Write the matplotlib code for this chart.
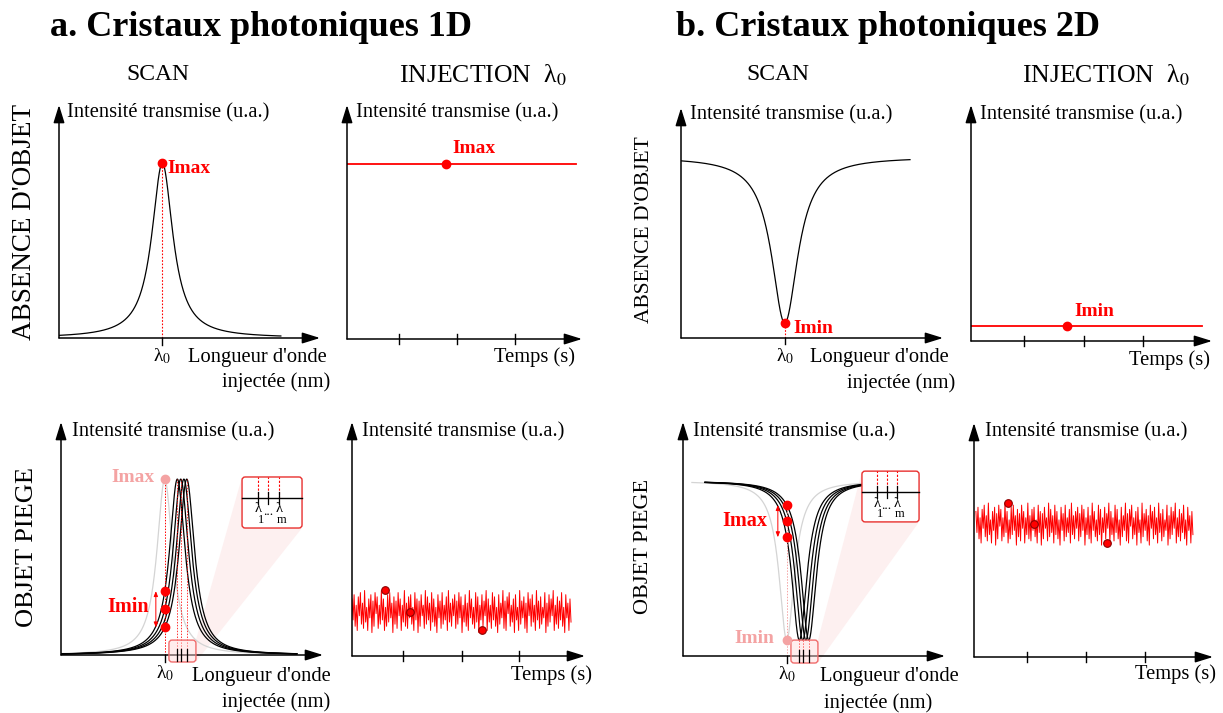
import numpy as np
import matplotlib.pyplot as plt
from matplotlib.patches import FancyBboxPatch, Polygon
from matplotlib.transforms import offset_copy

plt.rcParams['font.family'] = ['Liberation Serif', 'DejaVu Serif']
plt.rcParams['mathtext.fontset'] = 'stix'

W, H = 1223, 713
RED = '#ff0000'
PALE = '#f4a3a3'
GREY = '#d4d4d4'
DOTRED = '#8b0000'

# === data (arbitrary units: wavelength / time 0-100, intensity 0-1) ===
lam0 = 39.6

# 1D crystal: transmission peak, 2D crystal: transmission dip
peak_1d_height = 0.75
peak_1d_width = 9.8
dip_2d_top = 0.787
dip_2d_bottom = 0.065
dip_2d_width = 12.2

# trapped object: resonance shifted to lambda_1 ... lambda_m
trap_peak_height = 0.755
trap_peak_width = 7.25
trap_dip_top = 0.748
trap_dip_bottom = 0.068
trap_dip_width = 7.1
shifted_centers = [44.4, 45.7, 46.9, 48.0]
marked = [0, 1, 3]
inset_labels = ['1', '...', 'm']

# injection at lambda_0 (time axis)
time_ticks = [22, 47, 71.5]
imax_dot_t = 42.1
imin_dot_t = 39.8
noise_level_1d = 0.19
noise_level_2d = 0.568
noise_amp = 0.09
noise = [6, -4, 8, -7, 3, -9, 7, -2, 9, -6, 4, -8, 10, -5, 2, -9, 6, -3, 8, -10,
         5, -7, 9, -1, 7, -8, 3, -6, 10, -4, 6, -9, 2, -7, 8, -5, 9, -3, 4, -10,
         7, -6, 5, -8, 9, -2, 6, -9, 3, -5, 10, -7, 4, -8, 7, -3, 8, -6, 2, -9,
         9, -4, 6, -10, 5, -7, 8, -2, 3, -8, 10, -6, 7, -4, 4, -9, 9, -5, 6, -7,
         2, -10, 8, -3, 5, -8, 9, -6, 3, -4, 7, -9, 10, -5, 4, -7, 6, -2, 8, -8,
         5, -6, 9, -3, 7, -10, 3, -5, 8, -7,
         4, -9, 10, -3, 6, -6, 2, -8, 9, -5, 7, -10, 3, -4, 8, -7, 5, -2, 10, -9,
         6, -5, 3, -8, 9, -4, 7, -7, 2, -10, 8, -6, 4, -3, 10, -8, 5, -9, 7, -1,
         9, -7, 3, -5, 6, -10, 8, -4, 2, -9, 10, -6, 5, -3, 7, -8, 4, -10, 9, -2,
         6, -7, 8, -5, 3, -9, 10, -4, 5, -8, 7, -6, 2, -3, 9, -10, 4, -7, 8, -5,
         6, -2, 10, -9, 3, -6, 7, -8, 5, -4, 9, -7, 2, -10, 8, -3, 4, -9, 6, -5]
noise_dots_t = [14.2, 25.0, 55.7]
noise_dots_v = [1.0, 0.0, -0.9]


def lor(x, c, w):
    return 1.0 / (1.0 + (2.0 * (x - c) / w) ** 2)


fig = plt.figure(figsize=(W / 100, H / 100), dpi=100)


def panel(x0, yax, xtip, ytip):
    ax = fig.add_axes([x0 / W, 1 - yax / H, (xtip - x0) / W, (yax - ytip) / H])
    ax.set_xlim(0, 100)
    ax.set_ylim(0, 1)
    ax.axis('off')
    for tip in [(1, 0), (0, 1)]:
        ax.annotate('', xy=tip, xytext=(0, 0), xycoords='axes fraction',
                    arrowprops=dict(arrowstyle='-|>,head_length=0.9,head_width=0.28',
                                    lw=1.1, color='k', shrinkA=0, shrinkB=0,
                                    mutation_scale=12))
    return ax


def txt(ax, x, y, dx, dy, s, axes=False, **kw):
    base = ax.transAxes if axes else ax.transData
    tr = offset_copy(base, fig=fig, x=dx, y=dy, units='dots')
    ax.text(x, y, s, transform=tr, clip_on=False, **kw)


def ylabel(ax, dx, dy):
    txt(ax, 0, 1, dx, dy, 'Intensité transmise (u.a.)', axes=True,
        fontsize=14.8, ha='left', va='center')


def wl_labels(ax, dx1, dy1, dx2, dy2):
    txt(ax, lam0, 0, 0, -18, r'λ$_0$', fontsize=14, ha='center', va='center')
    txt(ax, 1, 0, dx1, dy1, "Longueur d'onde", axes=True, fontsize=14.8,
        ha='left', va='center')
    txt(ax, 1, 0, dx2, dy2, 'injectée (nm)', axes=True, fontsize=14.8,
        ha='left', va='center')
    ax.plot([lam0, lam0], [-0.028, 0.0], color='k', lw=1, clip_on=False)


def time_axis(ax, dx, dy):
    for t in time_ticks:
        ax.plot([t, t], [-0.02, 0.02], color='k', lw=1, clip_on=False)
    txt(ax, 1, 0, dx, dy, 'Temps (s)', axes=True, fontsize=14.8,
        ha='right', va='center')


def box(ax, x, y, w, h, fc, ec, r=1.2):
    bb = ax.get_position()
    aspect = (bb.width * W / 100) / (bb.height * H)
    p = FancyBboxPatch((x, y), w, h, boxstyle=f'round,pad=0,rounding_size={r}',
                       mutation_aspect=aspect, fc=fc, ec=ec, lw=1.0,
                       clip_on=False, zorder=4)
    ax.add_patch(p)


def zoom_inset(ax, small, big, line_y):
    bx0, bx1, by0, by1 = small
    ix0, ix1, iy0, iy1 = big
    ax.add_patch(Polygon([(bx1, by1), (ix0, iy1), (ix1, iy0), (bx1, by0)],
                         closed=True, fc='#fdeaea', ec='none', alpha=0.7,
                         clip_on=False, zorder=1))
    box(ax, bx0, by0, bx1 - bx0, by1 - by0, (1, 0.85, 0.85, 0.45), '#f06b6b')
    box(ax, ix0, iy0, ix1 - ix0, iy1 - iy0, 'white', '#e8302e')
    ax.plot([ix0, ix1], [line_y, line_y], color='k', lw=1, zorder=5, clip_on=False)
    for k in marked:
        c = shifted_centers[k]
        ax.plot([c, c], [-0.025, 0.025], color='k', lw=0.9, zorder=5, clip_on=False)
    # schematic zoom: lambda_1 ... lambda_m evenly spread in the inset
    for frac, lab in zip([0.26, 0.43, 0.61], inset_labels):
        tx = ix0 + frac * (ix1 - ix0)
        ax.plot([tx, tx], [line_y, iy1], color=RED, lw=0.8, ls=(0, (2, 1.5)),
                zorder=5, clip_on=False)
        ax.plot([tx, tx], [line_y - 0.025, line_y + 0.025], color='k', lw=0.9,
                zorder=5, clip_on=False)
        if lab == '...':
            txt(ax, tx, line_y, 0, -14, lab, fontsize=9.5, ha='center',
                va='center', zorder=6)
        else:
            txt(ax, tx, line_y, 0, -11, 'λ', fontsize=10.5, ha='center',
                va='center', zorder=6)
            txt(ax, tx, line_y, 3, -22, lab, fontsize=9, ha='center',
                va='center', zorder=6)


def noise_trace(ax, level, t0, t1):
    t = np.linspace(t0, t1, len(noise))
    v = level + noise_amp * np.array(noise) / 10.0
    ax.plot(t, v, color=RED, lw=0.7)
    dv = level + noise_amp * np.array(noise_dots_v)
    ax.plot(noise_dots_t, dv, 'o', ms=5.5, mfc=RED, mec=DOTRED, mew=0.8, zorder=5)


# ---------------- a. 1D : SCAN, no object ----------------
ax = panel(59, 338, 320, 105)
x = np.linspace(0, 85, 800)
ax.plot(x, peak_1d_height * lor(x, lam0, peak_1d_width), color='k', lw=0.9)
ax.plot([lam0, lam0], [0, peak_1d_height], color=RED, lw=0.8, ls=(0, (1.5, 1.5)))
ax.plot(lam0, peak_1d_height, 'o', color=RED, ms=6, zorder=5)
txt(ax, lam0, peak_1d_height, 5, -5, 'Imax', color=RED, fontsize=14,
    fontweight='bold', ha='left', va='center')
ylabel(ax, 8, -8)
wl_labels(ax, -132, -19, -98, -44)

# ---------------- a. 1D : INJECTION, no object ----------------
ax = panel(347, 339, 582, 105)
ax.plot([0, 97.4], [peak_1d_height, peak_1d_height], color=RED, lw=1.3)
ax.plot(imax_dot_t, peak_1d_height, 'o', color=RED, ms=6, zorder=5)
txt(ax, imax_dot_t, peak_1d_height, 6, 15, 'Imax', color=RED, fontsize=14,
    fontweight='bold', ha='left', va='center')
ylabel(ax, 9, -8)
time_axis(ax, -7, -18)

# ---------------- a. 1D : SCAN, trapped object ----------------
ax = panel(61, 655, 323, 422)
x = np.linspace(0, 90, 800)
ax.plot(x, trap_peak_height * lor(x, lam0, trap_peak_width), color=GREY, lw=0.9)
for c in shifted_centers:
    ax.plot(x, trap_peak_height * lor(x, c, trap_peak_width), color='k', lw=0.9)
for k in marked:
    c = shifted_centers[k]
    ax.plot([c, c], [0, trap_peak_height], color=RED, lw=0.7, ls=(0, (1.5, 1.5)),
            alpha=0.8)
ax.plot([lam0, lam0], [0, trap_peak_height], color=RED, lw=0.7, ls=(0, (1.5, 1.5)))
ax.plot(lam0, trap_peak_height, 'o', color=PALE, ms=6, zorder=5)
txt(ax, lam0, trap_peak_height, -10, 2, 'Imax', color=PALE, fontsize=14,
    fontweight='bold', ha='right', va='center')
vals = [trap_peak_height * lor(lam0, shifted_centers[k], trap_peak_width) for k in marked]
ax.plot([lam0] * len(vals), vals, 'o', color=RED, ms=6, zorder=5)
ax.annotate('', xy=(lam0 - 3.4, max(vals)), xytext=(lam0 - 3.4, min(vals)),
            arrowprops=dict(arrowstyle='<|-|>,head_length=0.5,head_width=0.2',
                            color=RED, lw=0.7, shrinkA=0, shrinkB=0, mutation_scale=6))
txt(ax, lam0, np.mean(vals), -37, 2, 'Imin', color=RED, fontsize=14.5,
    fontweight='bold', ha='center', va='center')
zoom_inset(ax, (41.2, 51.5, -0.03, 0.064), (69.1, 92.0, 0.545, 0.764), 0.674)
ylabel(ax, 11, -10)
wl_labels(ax, -131, -21, -101, -47)

# ---------------- a. 1D : INJECTION, trapped object ----------------
ax = panel(352, 656, 585, 422)
noise_trace(ax, noise_level_1d, 0, 94)
ylabel(ax, 10, -10)
time_axis(ax, 7, -19)

# ---------------- b. 2D : SCAN, no object ----------------
ax = panel(681, 338, 943, 108)
x = np.linspace(0, 87.4, 800)
ax.plot(x, dip_2d_top - (dip_2d_top - dip_2d_bottom) * lor(x, lam0, dip_2d_width),
        color='k', lw=0.9)
ax.plot([lam0, lam0], [0, dip_2d_bottom], color=RED, lw=0.8, ls=(0, (1.5, 1.5)))
ax.plot(lam0, dip_2d_bottom, 'o', color=RED, ms=6, zorder=5)
txt(ax, lam0, dip_2d_bottom, 9, -5, 'Imin', color=RED, fontsize=14,
    fontweight='bold', ha='left', va='center')
ylabel(ax, 9, -7)
wl_labels(ax, -133, -19, -96, -45)

# ---------------- b. 2D : INJECTION, no object ----------------
ax = panel(971, 341, 1212, 105)
ax.plot([0, 96], [dip_2d_bottom, dip_2d_bottom], color=RED, lw=1.3)
ax.plot(imin_dot_t, dip_2d_bottom, 'o', color=RED, ms=6, zorder=5)
txt(ax, imin_dot_t, dip_2d_bottom, 7, 14, 'Imin', color=RED, fontsize=14,
    fontweight='bold', ha='left', va='center')
ylabel(ax, 9, -10)
time_axis(ax, -2, -19)

# ---------------- b. 2D : SCAN, trapped object ----------------
ax = panel(683, 656, 945, 422)
depth = trap_dip_top - trap_dip_bottom
xg = np.linspace(3.4, 68.3, 800)
ax.plot(xg, trap_dip_top - depth * lor(xg, lam0, trap_dip_width), color=GREY, lw=0.9)
xb = np.linspace(8.4, 68.3, 800)
for c in shifted_centers:
    ax.plot(xb, trap_dip_top - depth * lor(xb, c, trap_dip_width), color='k', lw=0.9)
vals = [trap_dip_top - depth * lor(lam0, shifted_centers[k], trap_dip_width) for k in marked]
ax.plot([lam0, lam0], [0, max(vals)], color=PALE, lw=0.7, ls=(0, (1.5, 1.5)))
ax.plot(lam0, trap_dip_bottom, 'o', color=PALE, ms=6, zorder=5)
txt(ax, lam0, trap_dip_bottom, -12, 2, 'Imin', color=PALE, fontsize=14,
    fontweight='bold', ha='right', va='center')
ax.plot([lam0] * len(vals), vals, 'o', color=RED, ms=6, zorder=5)
ax.annotate('', xy=(lam0 - 3.4, max(vals)), xytext=(lam0 - 3.4, min(vals)),
            arrowprops=dict(arrowstyle='<|-|>,head_length=0.5,head_width=0.2',
                            color=RED, lw=0.7, shrinkA=0, shrinkB=0, mutation_scale=6))
txt(ax, lam0, np.mean(vals), -42, 0, 'Imax', color=RED, fontsize=14.5,
    fontweight='bold', ha='center', va='center')
for k in marked:
    c = shifted_centers[k]
    ax.plot([c, c], [0, trap_dip_bottom], color=RED, lw=0.7, ls=(0, (1.5, 1.5)))
zoom_inset(ax, (41.2, 51.5, -0.03, 0.068), (68.3, 90.1, 0.573, 0.79), 0.70)
ylabel(ax, 10, -10)
wl_labels(ax, -125, -21, -121, -47)

# ---------------- b. 2D : INJECTION, trapped object ----------------
ax = panel(974, 657, 1213, 423)
noise_trace(ax, noise_level_2d, 0.8, 91.6)
ylabel(ax, 11, -9)
time_axis(ax, 3, -17)


# ---------------- titles and row / column headers ----------------
def ftext(x, y, s, **kw):
    fig.text(x / W, 1 - y / H, s, **kw)


ftext(50, 28, 'a. Cristaux photoniques 1D', fontsize=26, fontweight='bold',
      ha='left', va='center')
ftext(676, 28, 'b. Cristaux photoniques 2D', fontsize=26, fontweight='bold',
      ha='left', va='center')
for xc in [158, 778]:
    ftext(xc, 75, 'SCAN', fontsize=17, ha='center', va='center')
for xc in [483, 1106]:
    ftext(xc, 75, r'INJECTION  λ$_0$', fontsize=18.5, ha='center', va='center')
ftext(25, 222, "ABSENCE D'OBJET", fontsize=19.5, rotation=90, ha='center', va='center')
ftext(27, 547, 'OBJET PIEGE', fontsize=19, rotation=90, ha='center', va='center')
ftext(645, 230, "ABSENCE D'OBJET", fontsize=15.5, rotation=90, ha='center', va='center')
ftext(643, 546, 'OBJET PIEGE', fontsize=16, rotation=90, ha='center', va='center')

fig.savefig('out.png', dpi=100)
